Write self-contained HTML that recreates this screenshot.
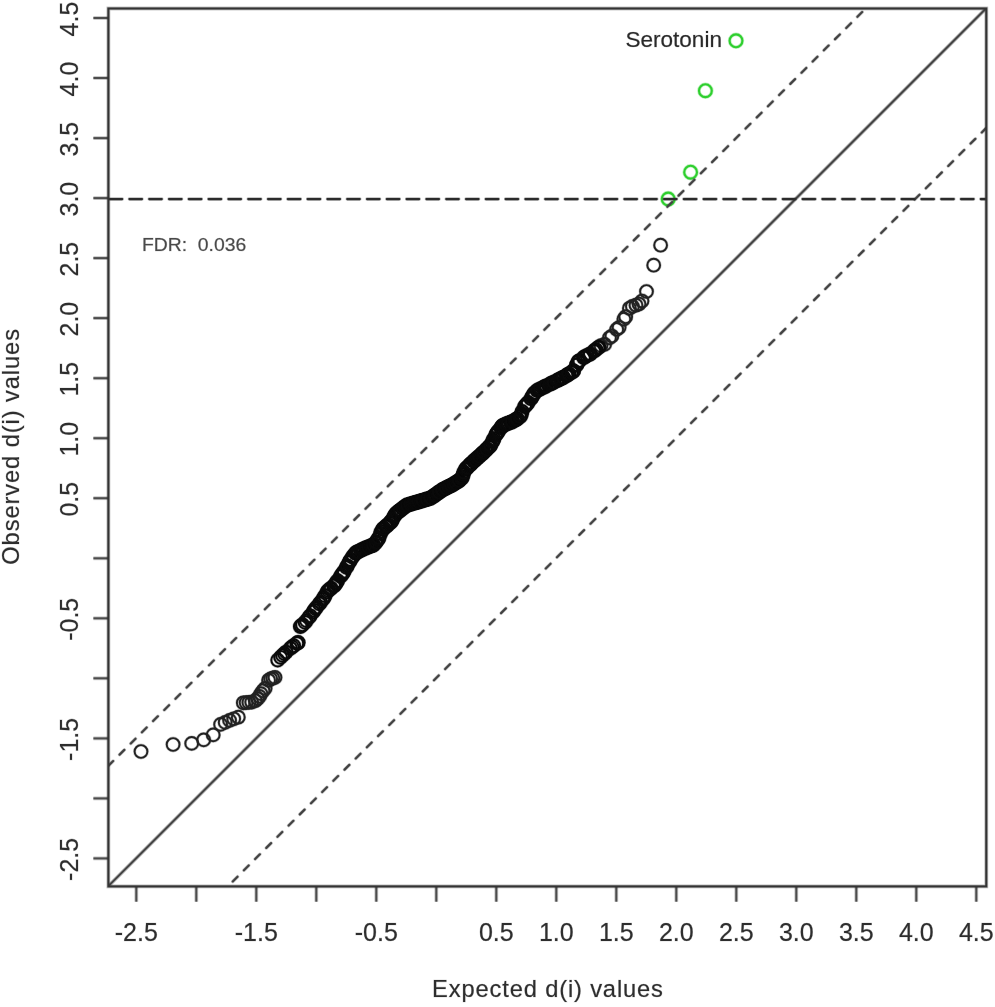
<!DOCTYPE html>
<html><head><meta charset="utf-8"><title>SAM plot</title>
<style>
html,body{margin:0;padding:0;background:#fff;}
svg{display:block;font-family:"Liberation Sans",sans-serif;}
.ln{stroke:#444;stroke-width:2.1;fill:none;stroke-linecap:butt;}
.tick{stroke:#4c4c4c;stroke-width:2.0;fill:none;stroke-linecap:butt;}
.box{stroke:#333;stroke-width:2.1;fill:none;}
.dash{stroke:#424242;stroke-width:2.2;fill:none;stroke-linecap:round;stroke-dasharray:6.7 9.11;}
.hdash{stroke:#2b2b2b;stroke-width:2.1;fill:none;stroke-linecap:round;stroke-dasharray:12.6 7.2;}
.pt{stroke:#222;stroke-width:1.9;fill:none;}
.pm{stroke:#0a0a0a;}
.gp{stroke:#2ecf2e;stroke-width:2.1;fill:none;}
.h{stroke-opacity:.33;}
.ln.h,.box.h,.tick.h{stroke-width:3.8;}
.dash.h{stroke-width:3.5;stroke-opacity:.3;}
.hdash.h{stroke-width:3.5;}
.pt.h{stroke-width:3.0;stroke-opacity:.28;}
.gp.h{stroke-width:3.6;}
text{stroke-opacity:.3;stroke-width:.7;}
.tk{font-size:25px;fill:#2e2e2e;stroke:#2e2e2e;text-anchor:middle;}
.ttl{font-size:23.7px;fill:#2e2e2e;stroke:#2e2e2e;text-anchor:middle;}
</style></head><body>
<svg width="995" height="1007" viewBox="0 0 995 1007">
<rect width="995" height="1007" fill="#fff"/>
<defs><clipPath id="cp"><rect x="108.4" y="8.5" width="877.9" height="877.9"/></clipPath></defs>

<line x1="136.3" y1="886.4" x2="136.3" y2="901.7" class="tick h"/>
<line x1="136.3" y1="886.4" x2="136.3" y2="901.7" class="tick"/>
<line x1="108.4" y1="858.4" x2="93.4" y2="858.4" class="tick h"/>
<line x1="108.4" y1="858.4" x2="93.4" y2="858.4" class="tick"/>
<line x1="196.3" y1="886.4" x2="196.3" y2="901.7" class="tick h"/>
<line x1="196.3" y1="886.4" x2="196.3" y2="901.7" class="tick"/>
<line x1="108.4" y1="798.4" x2="93.4" y2="798.4" class="tick h"/>
<line x1="108.4" y1="798.4" x2="93.4" y2="798.4" class="tick"/>
<line x1="256.3" y1="886.4" x2="256.3" y2="901.7" class="tick h"/>
<line x1="256.3" y1="886.4" x2="256.3" y2="901.7" class="tick"/>
<line x1="108.4" y1="738.4" x2="93.4" y2="738.4" class="tick h"/>
<line x1="108.4" y1="738.4" x2="93.4" y2="738.4" class="tick"/>
<line x1="316.3" y1="886.4" x2="316.3" y2="901.7" class="tick h"/>
<line x1="316.3" y1="886.4" x2="316.3" y2="901.7" class="tick"/>
<line x1="108.4" y1="678.3" x2="93.4" y2="678.3" class="tick h"/>
<line x1="108.4" y1="678.3" x2="93.4" y2="678.3" class="tick"/>
<line x1="376.3" y1="886.4" x2="376.3" y2="901.7" class="tick h"/>
<line x1="376.3" y1="886.4" x2="376.3" y2="901.7" class="tick"/>
<line x1="108.4" y1="618.3" x2="93.4" y2="618.3" class="tick h"/>
<line x1="108.4" y1="618.3" x2="93.4" y2="618.3" class="tick"/>
<line x1="436.3" y1="886.4" x2="436.3" y2="901.7" class="tick h"/>
<line x1="436.3" y1="886.4" x2="436.3" y2="901.7" class="tick"/>
<line x1="108.4" y1="558.3" x2="93.4" y2="558.3" class="tick h"/>
<line x1="108.4" y1="558.3" x2="93.4" y2="558.3" class="tick"/>
<line x1="496.3" y1="886.4" x2="496.3" y2="901.7" class="tick h"/>
<line x1="496.3" y1="886.4" x2="496.3" y2="901.7" class="tick"/>
<line x1="108.4" y1="498.2" x2="93.4" y2="498.2" class="tick h"/>
<line x1="108.4" y1="498.2" x2="93.4" y2="498.2" class="tick"/>
<line x1="556.3" y1="886.4" x2="556.3" y2="901.7" class="tick h"/>
<line x1="556.3" y1="886.4" x2="556.3" y2="901.7" class="tick"/>
<line x1="108.4" y1="438.2" x2="93.4" y2="438.2" class="tick h"/>
<line x1="108.4" y1="438.2" x2="93.4" y2="438.2" class="tick"/>
<line x1="616.3" y1="886.4" x2="616.3" y2="901.7" class="tick h"/>
<line x1="616.3" y1="886.4" x2="616.3" y2="901.7" class="tick"/>
<line x1="108.4" y1="378.2" x2="93.4" y2="378.2" class="tick h"/>
<line x1="108.4" y1="378.2" x2="93.4" y2="378.2" class="tick"/>
<line x1="676.3" y1="886.4" x2="676.3" y2="901.7" class="tick h"/>
<line x1="676.3" y1="886.4" x2="676.3" y2="901.7" class="tick"/>
<line x1="108.4" y1="318.1" x2="93.4" y2="318.1" class="tick h"/>
<line x1="108.4" y1="318.1" x2="93.4" y2="318.1" class="tick"/>
<line x1="736.3" y1="886.4" x2="736.3" y2="901.7" class="tick h"/>
<line x1="736.3" y1="886.4" x2="736.3" y2="901.7" class="tick"/>
<line x1="108.4" y1="258.1" x2="93.4" y2="258.1" class="tick h"/>
<line x1="108.4" y1="258.1" x2="93.4" y2="258.1" class="tick"/>
<line x1="796.3" y1="886.4" x2="796.3" y2="901.7" class="tick h"/>
<line x1="796.3" y1="886.4" x2="796.3" y2="901.7" class="tick"/>
<line x1="108.4" y1="198.1" x2="93.4" y2="198.1" class="tick h"/>
<line x1="108.4" y1="198.1" x2="93.4" y2="198.1" class="tick"/>
<line x1="856.3" y1="886.4" x2="856.3" y2="901.7" class="tick h"/>
<line x1="856.3" y1="886.4" x2="856.3" y2="901.7" class="tick"/>
<line x1="108.4" y1="138.1" x2="93.4" y2="138.1" class="tick h"/>
<line x1="108.4" y1="138.1" x2="93.4" y2="138.1" class="tick"/>
<line x1="916.3" y1="886.4" x2="916.3" y2="901.7" class="tick h"/>
<line x1="916.3" y1="886.4" x2="916.3" y2="901.7" class="tick"/>
<line x1="108.4" y1="78.0" x2="93.4" y2="78.0" class="tick h"/>
<line x1="108.4" y1="78.0" x2="93.4" y2="78.0" class="tick"/>
<line x1="976.3" y1="886.4" x2="976.3" y2="901.7" class="tick h"/>
<line x1="976.3" y1="886.4" x2="976.3" y2="901.7" class="tick"/>
<line x1="108.4" y1="18.0" x2="93.4" y2="18.0" class="tick h"/>
<line x1="108.4" y1="18.0" x2="93.4" y2="18.0" class="tick"/>
<text class="tk" x="136.3" y="940.5">-2.5</text>
<text class="tk" transform="translate(77.5,859.4) rotate(-90)">-2.5</text>
<text class="tk" x="256.3" y="940.5">-1.5</text>
<text class="tk" transform="translate(77.5,739.4) rotate(-90)">-1.5</text>
<text class="tk" x="376.3" y="940.5">-0.5</text>
<text class="tk" transform="translate(77.5,619.3) rotate(-90)">-0.5</text>
<text class="tk" x="496.3" y="940.5">0.5</text>
<text class="tk" transform="translate(77.5,499.2) rotate(-90)">0.5</text>
<text class="tk" x="556.3" y="940.5">1.0</text>
<text class="tk" transform="translate(77.5,439.2) rotate(-90)">1.0</text>
<text class="tk" x="616.3" y="940.5">1.5</text>
<text class="tk" transform="translate(77.5,379.2) rotate(-90)">1.5</text>
<text class="tk" x="676.3" y="940.5">2.0</text>
<text class="tk" transform="translate(77.5,319.1) rotate(-90)">2.0</text>
<text class="tk" x="736.3" y="940.5">2.5</text>
<text class="tk" transform="translate(77.5,259.1) rotate(-90)">2.5</text>
<text class="tk" x="796.3" y="940.5">3.0</text>
<text class="tk" transform="translate(77.5,199.1) rotate(-90)">3.0</text>
<text class="tk" x="856.3" y="940.5">3.5</text>
<text class="tk" transform="translate(77.5,139.1) rotate(-90)">3.5</text>
<text class="tk" x="916.3" y="940.5">4.0</text>
<text class="tk" transform="translate(77.5,79.0) rotate(-90)">4.0</text>
<text class="tk" x="976.3" y="940.5">4.5</text>
<text class="tk" transform="translate(77.5,19.0) rotate(-90)">4.5</text>
<text class="ttl" x="547.5" y="996.6" textLength="230.8" lengthAdjust="spacing">Expected d(i) values</text>
<text class="ttl" transform="translate(19.2,446.9) rotate(-90)" textLength="235.8" lengthAdjust="spacing">Observed d(i) values</text>
<circle cx="141" cy="751.5" r="6.4" class="pt h"/>
<circle cx="141" cy="751.5" r="6.4" class="pt"/>
<circle cx="173.1" cy="744.5" r="6.4" class="pt h"/>
<circle cx="173.1" cy="744.5" r="6.4" class="pt"/>
<circle cx="191.7" cy="743.4" r="6.4" class="pt h"/>
<circle cx="191.7" cy="743.4" r="6.4" class="pt"/>
<circle cx="203.7" cy="739.9" r="6.4" class="pt h"/>
<circle cx="203.7" cy="739.9" r="6.4" class="pt"/>
<circle cx="213.2" cy="734.9" r="6.4" class="pt h"/>
<circle cx="213.2" cy="734.9" r="6.4" class="pt"/>
<circle cx="220.6" cy="724.4" r="6.4" class="pt h"/>
<circle cx="220.6" cy="724.4" r="6.4" class="pt"/>
<circle cx="225.2" cy="722.4" r="6.4" class="pt h"/>
<circle cx="225.2" cy="722.4" r="6.4" class="pt"/>
<circle cx="229.6" cy="720.4" r="6.4" class="pt h"/>
<circle cx="229.6" cy="720.4" r="6.4" class="pt"/>
<circle cx="233.7" cy="718.8" r="6.4" class="pt h"/>
<circle cx="233.7" cy="718.8" r="6.4" class="pt"/>
<circle cx="238.3" cy="717.2" r="6.4" class="pt h"/>
<circle cx="238.3" cy="717.2" r="6.4" class="pt"/>
<circle cx="243.3" cy="702.8" r="6.4" class="pt h"/>
<circle cx="243.3" cy="702.8" r="6.4" class="pt"/>
<circle cx="246.1" cy="702.6" r="6.4" class="pt h"/>
<circle cx="246.1" cy="702.6" r="6.4" class="pt"/>
<circle cx="248.9" cy="702.4" r="6.4" class="pt h"/>
<circle cx="248.9" cy="702.4" r="6.4" class="pt"/>
<circle cx="251.7" cy="702.1" r="6.4" class="pt h"/>
<circle cx="251.7" cy="702.1" r="6.4" class="pt"/>
<circle cx="255.3" cy="700.7" r="6.4" class="pt h"/>
<circle cx="255.3" cy="700.7" r="6.4" class="pt"/>
<circle cx="257.7" cy="698.6" r="6.4" class="pt h"/>
<circle cx="257.7" cy="698.6" r="6.4" class="pt"/>
<circle cx="259.5" cy="696.4" r="6.4" class="pt h"/>
<circle cx="259.5" cy="696.4" r="6.4" class="pt"/>
<circle cx="260.9" cy="693.6" r="6.4" class="pt h"/>
<circle cx="260.9" cy="693.6" r="6.4" class="pt"/>
<circle cx="263" cy="690.8" r="6.4" class="pt h"/>
<circle cx="263" cy="690.8" r="6.4" class="pt"/>
<circle cx="265.1" cy="688.4" r="6.4" class="pt h"/>
<circle cx="265.1" cy="688.4" r="6.4" class="pt"/>
<circle cx="268.6" cy="680.3" r="6.4" class="pt h"/>
<circle cx="268.6" cy="680.3" r="6.4" class="pt"/>
<circle cx="270.7" cy="678.9" r="6.4" class="pt h"/>
<circle cx="270.7" cy="678.9" r="6.4" class="pt"/>
<circle cx="272.9" cy="678.1" r="6.4" class="pt h"/>
<circle cx="272.9" cy="678.1" r="6.4" class="pt"/>
<circle cx="275" cy="677.4" r="6.4" class="pt h"/>
<circle cx="275" cy="677.4" r="6.4" class="pt"/>
<circle cx="660.6" cy="245.2" r="6.4" class="pt h"/>
<circle cx="660.6" cy="245.2" r="6.4" class="pt"/>
<circle cx="653.7" cy="265.2" r="6.4" class="pt h"/>
<circle cx="653.7" cy="265.2" r="6.4" class="pt"/>
<circle cx="646.5" cy="291.5" r="6.4" class="pt h"/>
<circle cx="646.5" cy="291.5" r="6.4" class="pt"/>
<circle cx="642" cy="301" r="6.4" class="pt h"/>
<circle cx="642" cy="301" r="6.4" class="pt"/>
<circle cx="639" cy="304" r="6.4" class="pt h"/>
<circle cx="639" cy="304" r="6.4" class="pt"/>
<circle cx="636" cy="305.2" r="6.4" class="pt h"/>
<circle cx="636" cy="305.2" r="6.4" class="pt"/>
<circle cx="632.4" cy="306.4" r="6.4" class="pt h"/>
<circle cx="632.4" cy="306.4" r="6.4" class="pt"/>
<circle cx="629.4" cy="308.3" r="6.4" class="pt h"/>
<circle cx="629.4" cy="308.3" r="6.4" class="pt"/>
<circle cx="625.7" cy="316.7" r="6.4" class="pt h"/>
<circle cx="625.7" cy="316.7" r="6.4" class="pt"/>
<circle cx="623.9" cy="319.1" r="6.4" class="pt h"/>
<circle cx="623.9" cy="319.1" r="6.4" class="pt"/>
<circle cx="619.1" cy="327.5" r="6.4" class="pt h"/>
<circle cx="619.1" cy="327.5" r="6.4" class="pt"/>
<circle cx="616.7" cy="329.4" r="6.4" class="pt h"/>
<circle cx="616.7" cy="329.4" r="6.4" class="pt"/>
<circle cx="611.9" cy="336" r="6.4" class="pt h"/>
<circle cx="611.9" cy="336" r="6.4" class="pt"/>
<circle cx="609.5" cy="337.8" r="6.4" class="pt h"/>
<circle cx="609.5" cy="337.8" r="6.4" class="pt"/>
<circle cx="604.6" cy="344.4" r="6.4" class="pt h"/>
<circle cx="604.6" cy="344.4" r="6.4" class="pt"/>
<circle cx="601" cy="345.6" r="6.4" class="pt h"/>
<circle cx="601" cy="345.6" r="6.4" class="pt"/>
<circle cx="280.6" cy="657.3" r="6.4" class="pt pm h"/>
<circle cx="280.6" cy="657.3" r="6.4" class="pt pm"/>
<circle cx="282.5" cy="655.4" r="6.4" class="pt pm h"/>
<circle cx="282.5" cy="655.4" r="6.4" class="pt pm"/>
<circle cx="284.4" cy="653.6" r="6.4" class="pt pm h"/>
<circle cx="284.4" cy="653.6" r="6.4" class="pt pm"/>
<circle cx="286.1" cy="652.0" r="6.4" class="pt pm h"/>
<circle cx="286.1" cy="652.0" r="6.4" class="pt pm"/>
<circle cx="290.4" cy="648.3" r="6.4" class="pt pm h"/>
<circle cx="290.4" cy="648.3" r="6.4" class="pt pm"/>
<circle cx="292.1" cy="646.9" r="6.4" class="pt pm h"/>
<circle cx="292.1" cy="646.9" r="6.4" class="pt pm"/>
<circle cx="293.7" cy="645.7" r="6.4" class="pt pm h"/>
<circle cx="293.7" cy="645.7" r="6.4" class="pt pm"/>
<circle cx="296.8" cy="643.4" r="6.4" class="pt pm h"/>
<circle cx="296.8" cy="643.4" r="6.4" class="pt pm"/>
<circle cx="297.9" cy="642.7" r="6.4" class="pt pm h"/>
<circle cx="297.9" cy="642.7" r="6.4" class="pt pm"/>
<circle cx="301.1" cy="625.9" r="6.4" class="pt pm h"/>
<circle cx="301.1" cy="625.9" r="6.4" class="pt pm"/>
<circle cx="302.5" cy="624.7" r="6.4" class="pt pm h"/>
<circle cx="302.5" cy="624.7" r="6.4" class="pt pm"/>
<circle cx="305.1" cy="622.4" r="6.4" class="pt pm h"/>
<circle cx="305.1" cy="622.4" r="6.4" class="pt pm"/>
<circle cx="306.4" cy="620.6" r="6.4" class="pt pm h"/>
<circle cx="306.4" cy="620.6" r="6.4" class="pt pm"/>
<circle cx="308.9" cy="617.4" r="6.4" class="pt pm h"/>
<circle cx="308.9" cy="617.4" r="6.4" class="pt pm"/>
<circle cx="310.2" cy="615.8" r="6.4" class="pt pm h"/>
<circle cx="310.2" cy="615.8" r="6.4" class="pt pm"/>
<circle cx="313.1" cy="612.0" r="6.4" class="pt pm h"/>
<circle cx="313.1" cy="612.0" r="6.4" class="pt pm"/>
<circle cx="314.3" cy="610.3" r="6.4" class="pt pm h"/>
<circle cx="314.3" cy="610.3" r="6.4" class="pt pm"/>
<circle cx="315.5" cy="608.6" r="6.4" class="pt pm h"/>
<circle cx="315.5" cy="608.6" r="6.4" class="pt pm"/>
<circle cx="316.7" cy="607.1" r="6.4" class="pt pm h"/>
<circle cx="316.7" cy="607.1" r="6.4" class="pt pm"/>
<circle cx="319.4" cy="603.8" r="6.4" class="pt pm h"/>
<circle cx="319.4" cy="603.8" r="6.4" class="pt pm"/>
<circle cx="320.5" cy="602.4" r="6.4" class="pt pm h"/>
<circle cx="320.5" cy="602.4" r="6.4" class="pt pm"/>
<circle cx="322.8" cy="599.4" r="6.4" class="pt pm h"/>
<circle cx="322.8" cy="599.4" r="6.4" class="pt pm"/>
<circle cx="323.9" cy="597.7" r="6.4" class="pt pm h"/>
<circle cx="323.9" cy="597.7" r="6.4" class="pt pm"/>
<circle cx="325.0" cy="595.7" r="6.4" class="pt pm h"/>
<circle cx="325.0" cy="595.7" r="6.4" class="pt pm"/>
<circle cx="327.2" cy="591.8" r="6.4" class="pt pm h"/>
<circle cx="327.2" cy="591.8" r="6.4" class="pt pm"/>
<circle cx="328.3" cy="590.4" r="6.4" class="pt pm h"/>
<circle cx="328.3" cy="590.4" r="6.4" class="pt pm"/>
<circle cx="330.2" cy="588.9" r="6.4" class="pt pm h"/>
<circle cx="330.2" cy="588.9" r="6.4" class="pt pm"/>
<circle cx="331.2" cy="588.2" r="6.4" class="pt pm h"/>
<circle cx="331.2" cy="588.2" r="6.4" class="pt pm"/>
<circle cx="333.7" cy="586.0" r="6.4" class="pt pm h"/>
<circle cx="333.7" cy="586.0" r="6.4" class="pt pm"/>
<circle cx="334.7" cy="585.3" r="6.4" class="pt pm h"/>
<circle cx="334.7" cy="585.3" r="6.4" class="pt pm"/>
<circle cx="335.7" cy="583.7" r="6.4" class="pt pm h"/>
<circle cx="335.7" cy="583.7" r="6.4" class="pt pm"/>
<circle cx="336.6" cy="582.2" r="6.4" class="pt pm h"/>
<circle cx="336.6" cy="582.2" r="6.4" class="pt pm"/>
<circle cx="337.6" cy="580.7" r="6.4" class="pt pm h"/>
<circle cx="337.6" cy="580.7" r="6.4" class="pt pm"/>
<circle cx="340.5" cy="576.4" r="6.4" class="pt pm h"/>
<circle cx="340.5" cy="576.4" r="6.4" class="pt pm"/>
<circle cx="341.5" cy="575.1" r="6.4" class="pt pm h"/>
<circle cx="341.5" cy="575.1" r="6.4" class="pt pm"/>
<circle cx="342.4" cy="573.9" r="6.4" class="pt pm h"/>
<circle cx="342.4" cy="573.9" r="6.4" class="pt pm"/>
<circle cx="343.3" cy="572.6" r="6.4" class="pt pm h"/>
<circle cx="343.3" cy="572.6" r="6.4" class="pt pm"/>
<circle cx="344.2" cy="571.2" r="6.4" class="pt pm h"/>
<circle cx="344.2" cy="571.2" r="6.4" class="pt pm"/>
<circle cx="346.4" cy="567.4" r="6.4" class="pt pm h"/>
<circle cx="346.4" cy="567.4" r="6.4" class="pt pm"/>
<circle cx="347.3" cy="565.8" r="6.4" class="pt pm h"/>
<circle cx="347.3" cy="565.8" r="6.4" class="pt pm"/>
<circle cx="349.1" cy="562.5" r="6.4" class="pt pm h"/>
<circle cx="349.1" cy="562.5" r="6.4" class="pt pm"/>
<circle cx="349.9" cy="561.0" r="6.4" class="pt pm h"/>
<circle cx="349.9" cy="561.0" r="6.4" class="pt pm"/>
<circle cx="350.8" cy="559.6" r="6.4" class="pt pm h"/>
<circle cx="350.8" cy="559.6" r="6.4" class="pt pm"/>
<circle cx="352.5" cy="557.0" r="6.4" class="pt pm h"/>
<circle cx="352.5" cy="557.0" r="6.4" class="pt pm"/>
<circle cx="353.4" cy="555.7" r="6.4" class="pt pm h"/>
<circle cx="353.4" cy="555.7" r="6.4" class="pt pm"/>
<circle cx="355.4" cy="553.2" r="6.4" class="pt pm h"/>
<circle cx="355.4" cy="553.2" r="6.4" class="pt pm"/>
<circle cx="356.2" cy="552.6" r="6.4" class="pt pm h"/>
<circle cx="356.2" cy="552.6" r="6.4" class="pt pm"/>
<circle cx="357.0" cy="552.2" r="6.4" class="pt pm h"/>
<circle cx="357.0" cy="552.2" r="6.4" class="pt pm"/>
<circle cx="357.8" cy="551.8" r="6.4" class="pt pm h"/>
<circle cx="357.8" cy="551.8" r="6.4" class="pt pm"/>
<circle cx="358.6" cy="551.4" r="6.4" class="pt pm h"/>
<circle cx="358.6" cy="551.4" r="6.4" class="pt pm"/>
<circle cx="360.6" cy="550.4" r="6.4" class="pt pm h"/>
<circle cx="360.6" cy="550.4" r="6.4" class="pt pm"/>
<circle cx="361.4" cy="550.0" r="6.4" class="pt pm h"/>
<circle cx="361.4" cy="550.0" r="6.4" class="pt pm"/>
<circle cx="362.8" cy="549.3" r="6.4" class="pt pm h"/>
<circle cx="362.8" cy="549.3" r="6.4" class="pt pm"/>
<circle cx="363.6" cy="548.9" r="6.4" class="pt pm h"/>
<circle cx="363.6" cy="548.9" r="6.4" class="pt pm"/>
<circle cx="365.2" cy="548.1" r="6.4" class="pt pm h"/>
<circle cx="365.2" cy="548.1" r="6.4" class="pt pm"/>
<circle cx="366.0" cy="547.9" r="6.4" class="pt pm h"/>
<circle cx="366.0" cy="547.9" r="6.4" class="pt pm"/>
<circle cx="366.7" cy="547.6" r="6.4" class="pt pm h"/>
<circle cx="366.7" cy="547.6" r="6.4" class="pt pm"/>
<circle cx="368.3" cy="547.0" r="6.4" class="pt pm h"/>
<circle cx="368.3" cy="547.0" r="6.4" class="pt pm"/>
<circle cx="369.0" cy="546.7" r="6.4" class="pt pm h"/>
<circle cx="369.0" cy="546.7" r="6.4" class="pt pm"/>
<circle cx="370.8" cy="546.0" r="6.4" class="pt pm h"/>
<circle cx="370.8" cy="546.0" r="6.4" class="pt pm"/>
<circle cx="371.6" cy="545.7" r="6.4" class="pt pm h"/>
<circle cx="371.6" cy="545.7" r="6.4" class="pt pm"/>
<circle cx="372.3" cy="545.4" r="6.4" class="pt pm h"/>
<circle cx="372.3" cy="545.4" r="6.4" class="pt pm"/>
<circle cx="373.0" cy="545.1" r="6.4" class="pt pm h"/>
<circle cx="373.0" cy="545.1" r="6.4" class="pt pm"/>
<circle cx="373.7" cy="544.9" r="6.4" class="pt pm h"/>
<circle cx="373.7" cy="544.9" r="6.4" class="pt pm"/>
<circle cx="375.5" cy="542.9" r="6.4" class="pt pm h"/>
<circle cx="375.5" cy="542.9" r="6.4" class="pt pm"/>
<circle cx="376.2" cy="541.9" r="6.4" class="pt pm h"/>
<circle cx="376.2" cy="541.9" r="6.4" class="pt pm"/>
<circle cx="377.7" cy="539.7" r="6.4" class="pt pm h"/>
<circle cx="377.7" cy="539.7" r="6.4" class="pt pm"/>
<circle cx="378.4" cy="538.7" r="6.4" class="pt pm h"/>
<circle cx="378.4" cy="538.7" r="6.4" class="pt pm"/>
<circle cx="379.1" cy="537.5" r="6.4" class="pt pm h"/>
<circle cx="379.1" cy="537.5" r="6.4" class="pt pm"/>
<circle cx="380.6" cy="533.6" r="6.4" class="pt pm h"/>
<circle cx="380.6" cy="533.6" r="6.4" class="pt pm"/>
<circle cx="381.2" cy="531.6" r="6.4" class="pt pm h"/>
<circle cx="381.2" cy="531.6" r="6.4" class="pt pm"/>
<circle cx="382.7" cy="529.3" r="6.4" class="pt pm h"/>
<circle cx="382.7" cy="529.3" r="6.4" class="pt pm"/>
<circle cx="383.3" cy="528.7" r="6.4" class="pt pm h"/>
<circle cx="383.3" cy="528.7" r="6.4" class="pt pm"/>
<circle cx="384.0" cy="528.1" r="6.4" class="pt pm h"/>
<circle cx="384.0" cy="528.1" r="6.4" class="pt pm"/>
<circle cx="385.7" cy="526.6" r="6.4" class="pt pm h"/>
<circle cx="385.7" cy="526.6" r="6.4" class="pt pm"/>
<circle cx="386.4" cy="526.0" r="6.4" class="pt pm h"/>
<circle cx="386.4" cy="526.0" r="6.4" class="pt pm"/>
<circle cx="387.1" cy="525.5" r="6.4" class="pt pm h"/>
<circle cx="387.1" cy="525.5" r="6.4" class="pt pm"/>
<circle cx="387.7" cy="524.9" r="6.4" class="pt pm h"/>
<circle cx="387.7" cy="524.9" r="6.4" class="pt pm"/>
<circle cx="389.7" cy="523.0" r="6.4" class="pt pm h"/>
<circle cx="389.7" cy="523.0" r="6.4" class="pt pm"/>
<circle cx="390.3" cy="522.4" r="6.4" class="pt pm h"/>
<circle cx="390.3" cy="522.4" r="6.4" class="pt pm"/>
<circle cx="391.0" cy="521.8" r="6.4" class="pt pm h"/>
<circle cx="391.0" cy="521.8" r="6.4" class="pt pm"/>
<circle cx="391.7" cy="520.8" r="6.4" class="pt pm h"/>
<circle cx="391.7" cy="520.8" r="6.4" class="pt pm"/>
<circle cx="392.3" cy="519.7" r="6.4" class="pt pm h"/>
<circle cx="392.3" cy="519.7" r="6.4" class="pt pm"/>
<circle cx="394.1" cy="516.6" r="6.4" class="pt pm h"/>
<circle cx="394.1" cy="516.6" r="6.4" class="pt pm"/>
<circle cx="394.7" cy="515.5" r="6.4" class="pt pm h"/>
<circle cx="394.7" cy="515.5" r="6.4" class="pt pm"/>
<circle cx="395.4" cy="514.3" r="6.4" class="pt pm h"/>
<circle cx="395.4" cy="514.3" r="6.4" class="pt pm"/>
<circle cx="396.7" cy="512.9" r="6.4" class="pt pm h"/>
<circle cx="396.7" cy="512.9" r="6.4" class="pt pm"/>
<circle cx="397.4" cy="512.4" r="6.4" class="pt pm h"/>
<circle cx="397.4" cy="512.4" r="6.4" class="pt pm"/>
<circle cx="398.8" cy="511.3" r="6.4" class="pt pm h"/>
<circle cx="398.8" cy="511.3" r="6.4" class="pt pm"/>
<circle cx="399.5" cy="510.8" r="6.4" class="pt pm h"/>
<circle cx="399.5" cy="510.8" r="6.4" class="pt pm"/>
<circle cx="400.1" cy="510.3" r="6.4" class="pt pm h"/>
<circle cx="400.1" cy="510.3" r="6.4" class="pt pm"/>
<circle cx="400.7" cy="509.8" r="6.4" class="pt pm h"/>
<circle cx="400.7" cy="509.8" r="6.4" class="pt pm"/>
<circle cx="402.3" cy="508.6" r="6.4" class="pt pm h"/>
<circle cx="402.3" cy="508.6" r="6.4" class="pt pm"/>
<circle cx="402.9" cy="508.1" r="6.4" class="pt pm h"/>
<circle cx="402.9" cy="508.1" r="6.4" class="pt pm"/>
<circle cx="403.6" cy="507.6" r="6.4" class="pt pm h"/>
<circle cx="403.6" cy="507.6" r="6.4" class="pt pm"/>
<circle cx="404.9" cy="506.6" r="6.4" class="pt pm h"/>
<circle cx="404.9" cy="506.6" r="6.4" class="pt pm"/>
<circle cx="405.5" cy="506.1" r="6.4" class="pt pm h"/>
<circle cx="405.5" cy="506.1" r="6.4" class="pt pm"/>
<circle cx="406.8" cy="505.2" r="6.4" class="pt pm h"/>
<circle cx="406.8" cy="505.2" r="6.4" class="pt pm"/>
<circle cx="407.4" cy="505.0" r="6.4" class="pt pm h"/>
<circle cx="407.4" cy="505.0" r="6.4" class="pt pm"/>
<circle cx="408.0" cy="504.9" r="6.4" class="pt pm h"/>
<circle cx="408.0" cy="504.9" r="6.4" class="pt pm"/>
<circle cx="409.6" cy="504.4" r="6.4" class="pt pm h"/>
<circle cx="409.6" cy="504.4" r="6.4" class="pt pm"/>
<circle cx="410.2" cy="504.2" r="6.4" class="pt pm h"/>
<circle cx="410.2" cy="504.2" r="6.4" class="pt pm"/>
<circle cx="410.8" cy="504.0" r="6.4" class="pt pm h"/>
<circle cx="410.8" cy="504.0" r="6.4" class="pt pm"/>
<circle cx="411.4" cy="503.8" r="6.4" class="pt pm h"/>
<circle cx="411.4" cy="503.8" r="6.4" class="pt pm"/>
<circle cx="412.8" cy="503.4" r="6.4" class="pt pm h"/>
<circle cx="412.8" cy="503.4" r="6.4" class="pt pm"/>
<circle cx="413.4" cy="503.2" r="6.4" class="pt pm h"/>
<circle cx="413.4" cy="503.2" r="6.4" class="pt pm"/>
<circle cx="414.5" cy="502.9" r="6.4" class="pt pm h"/>
<circle cx="414.5" cy="502.9" r="6.4" class="pt pm"/>
<circle cx="415.2" cy="502.7" r="6.4" class="pt pm h"/>
<circle cx="415.2" cy="502.7" r="6.4" class="pt pm"/>
<circle cx="416.3" cy="502.4" r="6.4" class="pt pm h"/>
<circle cx="416.3" cy="502.4" r="6.4" class="pt pm"/>
<circle cx="416.9" cy="502.2" r="6.4" class="pt pm h"/>
<circle cx="416.9" cy="502.2" r="6.4" class="pt pm"/>
<circle cx="418.2" cy="501.8" r="6.4" class="pt pm h"/>
<circle cx="418.2" cy="501.8" r="6.4" class="pt pm"/>
<circle cx="418.8" cy="501.7" r="6.4" class="pt pm h"/>
<circle cx="418.8" cy="501.7" r="6.4" class="pt pm"/>
<circle cx="419.4" cy="501.5" r="6.4" class="pt pm h"/>
<circle cx="419.4" cy="501.5" r="6.4" class="pt pm"/>
<circle cx="421.0" cy="501.0" r="6.4" class="pt pm h"/>
<circle cx="421.0" cy="501.0" r="6.4" class="pt pm"/>
<circle cx="421.6" cy="500.8" r="6.4" class="pt pm h"/>
<circle cx="421.6" cy="500.8" r="6.4" class="pt pm"/>
<circle cx="422.2" cy="500.6" r="6.4" class="pt pm h"/>
<circle cx="422.2" cy="500.6" r="6.4" class="pt pm"/>
<circle cx="422.8" cy="500.4" r="6.4" class="pt pm h"/>
<circle cx="422.8" cy="500.4" r="6.4" class="pt pm"/>
<circle cx="423.4" cy="500.3" r="6.4" class="pt pm h"/>
<circle cx="423.4" cy="500.3" r="6.4" class="pt pm"/>
<circle cx="425.3" cy="499.7" r="6.4" class="pt pm h"/>
<circle cx="425.3" cy="499.7" r="6.4" class="pt pm"/>
<circle cx="425.9" cy="499.5" r="6.4" class="pt pm h"/>
<circle cx="425.9" cy="499.5" r="6.4" class="pt pm"/>
<circle cx="426.5" cy="499.4" r="6.4" class="pt pm h"/>
<circle cx="426.5" cy="499.4" r="6.4" class="pt pm"/>
<circle cx="427.1" cy="499.2" r="6.4" class="pt pm h"/>
<circle cx="427.1" cy="499.2" r="6.4" class="pt pm"/>
<circle cx="427.7" cy="499.0" r="6.4" class="pt pm h"/>
<circle cx="427.7" cy="499.0" r="6.4" class="pt pm"/>
<circle cx="429.4" cy="498.4" r="6.4" class="pt pm h"/>
<circle cx="429.4" cy="498.4" r="6.4" class="pt pm"/>
<circle cx="430.0" cy="498.3" r="6.4" class="pt pm h"/>
<circle cx="430.0" cy="498.3" r="6.4" class="pt pm"/>
<circle cx="430.6" cy="498.1" r="6.4" class="pt pm h"/>
<circle cx="430.6" cy="498.1" r="6.4" class="pt pm"/>
<circle cx="431.2" cy="497.6" r="6.4" class="pt pm h"/>
<circle cx="431.2" cy="497.6" r="6.4" class="pt pm"/>
<circle cx="433.0" cy="496.5" r="6.4" class="pt pm h"/>
<circle cx="433.0" cy="496.5" r="6.4" class="pt pm"/>
<circle cx="433.6" cy="496.1" r="6.4" class="pt pm h"/>
<circle cx="433.6" cy="496.1" r="6.4" class="pt pm"/>
<circle cx="434.2" cy="495.6" r="6.4" class="pt pm h"/>
<circle cx="434.2" cy="495.6" r="6.4" class="pt pm"/>
<circle cx="434.8" cy="495.2" r="6.4" class="pt pm h"/>
<circle cx="434.8" cy="495.2" r="6.4" class="pt pm"/>
<circle cx="435.4" cy="494.8" r="6.4" class="pt pm h"/>
<circle cx="435.4" cy="494.8" r="6.4" class="pt pm"/>
<circle cx="437.2" cy="493.5" r="6.4" class="pt pm h"/>
<circle cx="437.2" cy="493.5" r="6.4" class="pt pm"/>
<circle cx="437.8" cy="493.0" r="6.4" class="pt pm h"/>
<circle cx="437.8" cy="493.0" r="6.4" class="pt pm"/>
<circle cx="438.4" cy="492.6" r="6.4" class="pt pm h"/>
<circle cx="438.4" cy="492.6" r="6.4" class="pt pm"/>
<circle cx="439.0" cy="492.2" r="6.4" class="pt pm h"/>
<circle cx="439.0" cy="492.2" r="6.4" class="pt pm"/>
<circle cx="439.6" cy="491.8" r="6.4" class="pt pm h"/>
<circle cx="439.6" cy="491.8" r="6.4" class="pt pm"/>
<circle cx="441.4" cy="490.6" r="6.4" class="pt pm h"/>
<circle cx="441.4" cy="490.6" r="6.4" class="pt pm"/>
<circle cx="442.0" cy="490.1" r="6.4" class="pt pm h"/>
<circle cx="442.0" cy="490.1" r="6.4" class="pt pm"/>
<circle cx="442.6" cy="489.7" r="6.4" class="pt pm h"/>
<circle cx="442.6" cy="489.7" r="6.4" class="pt pm"/>
<circle cx="443.2" cy="489.4" r="6.4" class="pt pm h"/>
<circle cx="443.2" cy="489.4" r="6.4" class="pt pm"/>
<circle cx="444.8" cy="488.6" r="6.4" class="pt pm h"/>
<circle cx="444.8" cy="488.6" r="6.4" class="pt pm"/>
<circle cx="445.4" cy="488.3" r="6.4" class="pt pm h"/>
<circle cx="445.4" cy="488.3" r="6.4" class="pt pm"/>
<circle cx="446.0" cy="488.0" r="6.4" class="pt pm h"/>
<circle cx="446.0" cy="488.0" r="6.4" class="pt pm"/>
<circle cx="446.6" cy="487.7" r="6.4" class="pt pm h"/>
<circle cx="446.6" cy="487.7" r="6.4" class="pt pm"/>
<circle cx="448.1" cy="486.9" r="6.4" class="pt pm h"/>
<circle cx="448.1" cy="486.9" r="6.4" class="pt pm"/>
<circle cx="448.7" cy="486.6" r="6.4" class="pt pm h"/>
<circle cx="448.7" cy="486.6" r="6.4" class="pt pm"/>
<circle cx="449.3" cy="486.3" r="6.4" class="pt pm h"/>
<circle cx="449.3" cy="486.3" r="6.4" class="pt pm"/>
<circle cx="450.7" cy="485.7" r="6.4" class="pt pm h"/>
<circle cx="450.7" cy="485.7" r="6.4" class="pt pm"/>
<circle cx="451.3" cy="485.4" r="6.4" class="pt pm h"/>
<circle cx="451.3" cy="485.4" r="6.4" class="pt pm"/>
<circle cx="451.9" cy="485.1" r="6.4" class="pt pm h"/>
<circle cx="451.9" cy="485.1" r="6.4" class="pt pm"/>
<circle cx="453.2" cy="484.3" r="6.4" class="pt pm h"/>
<circle cx="453.2" cy="484.3" r="6.4" class="pt pm"/>
<circle cx="453.8" cy="483.9" r="6.4" class="pt pm h"/>
<circle cx="453.8" cy="483.9" r="6.4" class="pt pm"/>
<circle cx="454.4" cy="483.5" r="6.4" class="pt pm h"/>
<circle cx="454.4" cy="483.5" r="6.4" class="pt pm"/>
<circle cx="455.7" cy="482.7" r="6.4" class="pt pm h"/>
<circle cx="455.7" cy="482.7" r="6.4" class="pt pm"/>
<circle cx="456.3" cy="482.4" r="6.4" class="pt pm h"/>
<circle cx="456.3" cy="482.4" r="6.4" class="pt pm"/>
<circle cx="457.7" cy="481.5" r="6.4" class="pt pm h"/>
<circle cx="457.7" cy="481.5" r="6.4" class="pt pm"/>
<circle cx="458.3" cy="481.1" r="6.4" class="pt pm h"/>
<circle cx="458.3" cy="481.1" r="6.4" class="pt pm"/>
<circle cx="458.9" cy="480.7" r="6.4" class="pt pm h"/>
<circle cx="458.9" cy="480.7" r="6.4" class="pt pm"/>
<circle cx="459.5" cy="480.3" r="6.4" class="pt pm h"/>
<circle cx="459.5" cy="480.3" r="6.4" class="pt pm"/>
<circle cx="461.3" cy="478.5" r="6.4" class="pt pm h"/>
<circle cx="461.3" cy="478.5" r="6.4" class="pt pm"/>
<circle cx="461.9" cy="478.1" r="6.4" class="pt pm h"/>
<circle cx="461.9" cy="478.1" r="6.4" class="pt pm"/>
<circle cx="462.6" cy="476.6" r="6.4" class="pt pm h"/>
<circle cx="462.6" cy="476.6" r="6.4" class="pt pm"/>
<circle cx="463.2" cy="474.4" r="6.4" class="pt pm h"/>
<circle cx="463.2" cy="474.4" r="6.4" class="pt pm"/>
<circle cx="463.8" cy="472.2" r="6.4" class="pt pm h"/>
<circle cx="463.8" cy="472.2" r="6.4" class="pt pm"/>
<circle cx="465.6" cy="469.1" r="6.4" class="pt pm h"/>
<circle cx="465.6" cy="469.1" r="6.4" class="pt pm"/>
<circle cx="466.2" cy="468.5" r="6.4" class="pt pm h"/>
<circle cx="466.2" cy="468.5" r="6.4" class="pt pm"/>
<circle cx="466.9" cy="467.9" r="6.4" class="pt pm h"/>
<circle cx="466.9" cy="467.9" r="6.4" class="pt pm"/>
<circle cx="467.5" cy="467.3" r="6.4" class="pt pm h"/>
<circle cx="467.5" cy="467.3" r="6.4" class="pt pm"/>
<circle cx="469.3" cy="465.4" r="6.4" class="pt pm h"/>
<circle cx="469.3" cy="465.4" r="6.4" class="pt pm"/>
<circle cx="469.9" cy="464.8" r="6.4" class="pt pm h"/>
<circle cx="469.9" cy="464.8" r="6.4" class="pt pm"/>
<circle cx="470.6" cy="464.2" r="6.4" class="pt pm h"/>
<circle cx="470.6" cy="464.2" r="6.4" class="pt pm"/>
<circle cx="471.2" cy="463.6" r="6.4" class="pt pm h"/>
<circle cx="471.2" cy="463.6" r="6.4" class="pt pm"/>
<circle cx="471.8" cy="463.0" r="6.4" class="pt pm h"/>
<circle cx="471.8" cy="463.0" r="6.4" class="pt pm"/>
<circle cx="473.7" cy="461.2" r="6.4" class="pt pm h"/>
<circle cx="473.7" cy="461.2" r="6.4" class="pt pm"/>
<circle cx="474.3" cy="460.6" r="6.4" class="pt pm h"/>
<circle cx="474.3" cy="460.6" r="6.4" class="pt pm"/>
<circle cx="475.0" cy="460.1" r="6.4" class="pt pm h"/>
<circle cx="475.0" cy="460.1" r="6.4" class="pt pm"/>
<circle cx="475.6" cy="459.5" r="6.4" class="pt pm h"/>
<circle cx="475.6" cy="459.5" r="6.4" class="pt pm"/>
<circle cx="477.1" cy="458.2" r="6.4" class="pt pm h"/>
<circle cx="477.1" cy="458.2" r="6.4" class="pt pm"/>
<circle cx="477.7" cy="457.6" r="6.4" class="pt pm h"/>
<circle cx="477.7" cy="457.6" r="6.4" class="pt pm"/>
<circle cx="478.9" cy="456.6" r="6.4" class="pt pm h"/>
<circle cx="478.9" cy="456.6" r="6.4" class="pt pm"/>
<circle cx="479.6" cy="456.0" r="6.4" class="pt pm h"/>
<circle cx="479.6" cy="456.0" r="6.4" class="pt pm"/>
<circle cx="481.2" cy="454.5" r="6.4" class="pt pm h"/>
<circle cx="481.2" cy="454.5" r="6.4" class="pt pm"/>
<circle cx="481.9" cy="453.9" r="6.4" class="pt pm h"/>
<circle cx="481.9" cy="453.9" r="6.4" class="pt pm"/>
<circle cx="482.5" cy="453.3" r="6.4" class="pt pm h"/>
<circle cx="482.5" cy="453.3" r="6.4" class="pt pm"/>
<circle cx="483.2" cy="452.7" r="6.4" class="pt pm h"/>
<circle cx="483.2" cy="452.7" r="6.4" class="pt pm"/>
<circle cx="483.9" cy="452.0" r="6.4" class="pt pm h"/>
<circle cx="483.9" cy="452.0" r="6.4" class="pt pm"/>
<circle cx="485.7" cy="450.3" r="6.4" class="pt pm h"/>
<circle cx="485.7" cy="450.3" r="6.4" class="pt pm"/>
<circle cx="486.4" cy="449.6" r="6.4" class="pt pm h"/>
<circle cx="486.4" cy="449.6" r="6.4" class="pt pm"/>
<circle cx="487.0" cy="448.9" r="6.4" class="pt pm h"/>
<circle cx="487.0" cy="448.9" r="6.4" class="pt pm"/>
<circle cx="488.7" cy="447.2" r="6.4" class="pt pm h"/>
<circle cx="488.7" cy="447.2" r="6.4" class="pt pm"/>
<circle cx="489.4" cy="446.6" r="6.4" class="pt pm h"/>
<circle cx="489.4" cy="446.6" r="6.4" class="pt pm"/>
<circle cx="490.1" cy="445.9" r="6.4" class="pt pm h"/>
<circle cx="490.1" cy="445.9" r="6.4" class="pt pm"/>
<circle cx="490.8" cy="445.0" r="6.4" class="pt pm h"/>
<circle cx="490.8" cy="445.0" r="6.4" class="pt pm"/>
<circle cx="492.5" cy="441.7" r="6.4" class="pt pm h"/>
<circle cx="492.5" cy="441.7" r="6.4" class="pt pm"/>
<circle cx="493.2" cy="440.2" r="6.4" class="pt pm h"/>
<circle cx="493.2" cy="440.2" r="6.4" class="pt pm"/>
<circle cx="493.9" cy="438.7" r="6.4" class="pt pm h"/>
<circle cx="493.9" cy="438.7" r="6.4" class="pt pm"/>
<circle cx="495.8" cy="435.0" r="6.4" class="pt pm h"/>
<circle cx="495.8" cy="435.0" r="6.4" class="pt pm"/>
<circle cx="496.5" cy="433.8" r="6.4" class="pt pm h"/>
<circle cx="496.5" cy="433.8" r="6.4" class="pt pm"/>
<circle cx="497.2" cy="432.8" r="6.4" class="pt pm h"/>
<circle cx="497.2" cy="432.8" r="6.4" class="pt pm"/>
<circle cx="497.9" cy="431.8" r="6.4" class="pt pm h"/>
<circle cx="497.9" cy="431.8" r="6.4" class="pt pm"/>
<circle cx="498.6" cy="430.8" r="6.4" class="pt pm h"/>
<circle cx="498.6" cy="430.8" r="6.4" class="pt pm"/>
<circle cx="500.9" cy="427.8" r="6.4" class="pt pm h"/>
<circle cx="500.9" cy="427.8" r="6.4" class="pt pm"/>
<circle cx="501.7" cy="426.8" r="6.4" class="pt pm h"/>
<circle cx="501.7" cy="426.8" r="6.4" class="pt pm"/>
<circle cx="502.4" cy="425.8" r="6.4" class="pt pm h"/>
<circle cx="502.4" cy="425.8" r="6.4" class="pt pm"/>
<circle cx="503.1" cy="425.3" r="6.4" class="pt pm h"/>
<circle cx="503.1" cy="425.3" r="6.4" class="pt pm"/>
<circle cx="503.9" cy="425.1" r="6.4" class="pt pm h"/>
<circle cx="503.9" cy="425.1" r="6.4" class="pt pm"/>
<circle cx="505.7" cy="424.1" r="6.4" class="pt pm h"/>
<circle cx="505.7" cy="424.1" r="6.4" class="pt pm"/>
<circle cx="506.5" cy="423.8" r="6.4" class="pt pm h"/>
<circle cx="506.5" cy="423.8" r="6.4" class="pt pm"/>
<circle cx="507.9" cy="423.3" r="6.4" class="pt pm h"/>
<circle cx="507.9" cy="423.3" r="6.4" class="pt pm"/>
<circle cx="508.7" cy="423.0" r="6.4" class="pt pm h"/>
<circle cx="508.7" cy="423.0" r="6.4" class="pt pm"/>
<circle cx="510.4" cy="422.4" r="6.4" class="pt pm h"/>
<circle cx="510.4" cy="422.4" r="6.4" class="pt pm"/>
<circle cx="511.2" cy="422.1" r="6.4" class="pt pm h"/>
<circle cx="511.2" cy="422.1" r="6.4" class="pt pm"/>
<circle cx="512.0" cy="421.8" r="6.4" class="pt pm h"/>
<circle cx="512.0" cy="421.8" r="6.4" class="pt pm"/>
<circle cx="512.8" cy="421.3" r="6.4" class="pt pm h"/>
<circle cx="512.8" cy="421.3" r="6.4" class="pt pm"/>
<circle cx="514.9" cy="420.2" r="6.4" class="pt pm h"/>
<circle cx="514.9" cy="420.2" r="6.4" class="pt pm"/>
<circle cx="515.7" cy="419.7" r="6.4" class="pt pm h"/>
<circle cx="515.7" cy="419.7" r="6.4" class="pt pm"/>
<circle cx="516.5" cy="419.2" r="6.4" class="pt pm h"/>
<circle cx="516.5" cy="419.2" r="6.4" class="pt pm"/>
<circle cx="517.4" cy="418.8" r="6.4" class="pt pm h"/>
<circle cx="517.4" cy="418.8" r="6.4" class="pt pm"/>
<circle cx="519.6" cy="416.9" r="6.4" class="pt pm h"/>
<circle cx="519.6" cy="416.9" r="6.4" class="pt pm"/>
<circle cx="520.4" cy="416.4" r="6.4" class="pt pm h"/>
<circle cx="520.4" cy="416.4" r="6.4" class="pt pm"/>
<circle cx="521.3" cy="414.4" r="6.4" class="pt pm h"/>
<circle cx="521.3" cy="414.4" r="6.4" class="pt pm"/>
<circle cx="522.1" cy="411.4" r="6.4" class="pt pm h"/>
<circle cx="522.1" cy="411.4" r="6.4" class="pt pm"/>
<circle cx="524.6" cy="406.6" r="6.4" class="pt pm h"/>
<circle cx="524.6" cy="406.6" r="6.4" class="pt pm"/>
<circle cx="525.5" cy="405.6" r="6.4" class="pt pm h"/>
<circle cx="525.5" cy="405.6" r="6.4" class="pt pm"/>
<circle cx="526.4" cy="404.6" r="6.4" class="pt pm h"/>
<circle cx="526.4" cy="404.6" r="6.4" class="pt pm"/>
<circle cx="527.3" cy="403.5" r="6.4" class="pt pm h"/>
<circle cx="527.3" cy="403.5" r="6.4" class="pt pm"/>
<circle cx="528.2" cy="402.5" r="6.4" class="pt pm h"/>
<circle cx="528.2" cy="402.5" r="6.4" class="pt pm"/>
<circle cx="531.0" cy="398.7" r="6.4" class="pt pm h"/>
<circle cx="531.0" cy="398.7" r="6.4" class="pt pm"/>
<circle cx="531.9" cy="397.2" r="6.4" class="pt pm h"/>
<circle cx="531.9" cy="397.2" r="6.4" class="pt pm"/>
<circle cx="532.9" cy="395.5" r="6.4" class="pt pm h"/>
<circle cx="532.9" cy="395.5" r="6.4" class="pt pm"/>
<circle cx="533.8" cy="393.9" r="6.4" class="pt pm h"/>
<circle cx="533.8" cy="393.9" r="6.4" class="pt pm"/>
<circle cx="534.7" cy="392.6" r="6.4" class="pt pm h"/>
<circle cx="534.7" cy="392.6" r="6.4" class="pt pm"/>
<circle cx="537.1" cy="390.5" r="6.4" class="pt pm h"/>
<circle cx="537.1" cy="390.5" r="6.4" class="pt pm"/>
<circle cx="538.1" cy="390.0" r="6.4" class="pt pm h"/>
<circle cx="538.1" cy="390.0" r="6.4" class="pt pm"/>
<circle cx="539.9" cy="389.1" r="6.4" class="pt pm h"/>
<circle cx="539.9" cy="389.1" r="6.4" class="pt pm"/>
<circle cx="540.9" cy="388.6" r="6.4" class="pt pm h"/>
<circle cx="540.9" cy="388.6" r="6.4" class="pt pm"/>
<circle cx="543.3" cy="387.4" r="6.4" class="pt pm h"/>
<circle cx="543.3" cy="387.4" r="6.4" class="pt pm"/>
<circle cx="544.3" cy="386.9" r="6.4" class="pt pm h"/>
<circle cx="544.3" cy="386.9" r="6.4" class="pt pm"/>
<circle cx="545.4" cy="386.4" r="6.4" class="pt pm h"/>
<circle cx="545.4" cy="386.4" r="6.4" class="pt pm"/>
<circle cx="546.4" cy="385.9" r="6.4" class="pt pm h"/>
<circle cx="546.4" cy="385.9" r="6.4" class="pt pm"/>
<circle cx="549.6" cy="384.3" r="6.4" class="pt pm h"/>
<circle cx="549.6" cy="384.3" r="6.4" class="pt pm"/>
<circle cx="550.7" cy="383.7" r="6.4" class="pt pm h"/>
<circle cx="550.7" cy="383.7" r="6.4" class="pt pm"/>
<circle cx="551.9" cy="383.2" r="6.4" class="pt pm h"/>
<circle cx="551.9" cy="383.2" r="6.4" class="pt pm"/>
<circle cx="553.0" cy="382.6" r="6.4" class="pt pm h"/>
<circle cx="553.0" cy="382.6" r="6.4" class="pt pm"/>
<circle cx="554.2" cy="382.0" r="6.4" class="pt pm h"/>
<circle cx="554.2" cy="382.0" r="6.4" class="pt pm"/>
<circle cx="557.0" cy="380.6" r="6.4" class="pt pm h"/>
<circle cx="557.0" cy="380.6" r="6.4" class="pt pm"/>
<circle cx="557.8" cy="380.2" r="6.4" class="pt pm h"/>
<circle cx="557.8" cy="380.2" r="6.4" class="pt pm"/>
<circle cx="558.8" cy="379.7" r="6.4" class="pt pm h"/>
<circle cx="558.8" cy="379.7" r="6.4" class="pt pm"/>
<circle cx="560.1" cy="379.0" r="6.4" class="pt pm h"/>
<circle cx="560.1" cy="379.0" r="6.4" class="pt pm"/>
<circle cx="561.2" cy="378.5" r="6.4" class="pt pm h"/>
<circle cx="561.2" cy="378.5" r="6.4" class="pt pm"/>
<circle cx="562.2" cy="377.9" r="6.4" class="pt pm h"/>
<circle cx="562.2" cy="377.9" r="6.4" class="pt pm"/>
<circle cx="563.0" cy="377.6" r="6.4" class="pt pm h"/>
<circle cx="563.0" cy="377.6" r="6.4" class="pt pm"/>
<circle cx="563.5" cy="377.3" r="6.4" class="pt pm h"/>
<circle cx="563.5" cy="377.3" r="6.4" class="pt pm"/>
<circle cx="566.3" cy="375.6" r="6.4" class="pt pm h"/>
<circle cx="566.3" cy="375.6" r="6.4" class="pt pm"/>
<circle cx="566.4" cy="375.6" r="6.4" class="pt pm h"/>
<circle cx="566.4" cy="375.6" r="6.4" class="pt pm"/>
<circle cx="567.7" cy="374.7" r="6.4" class="pt pm h"/>
<circle cx="567.7" cy="374.7" r="6.4" class="pt pm"/>
<circle cx="568.1" cy="374.5" r="6.4" class="pt pm h"/>
<circle cx="568.1" cy="374.5" r="6.4" class="pt pm"/>
<circle cx="569.1" cy="373.9" r="6.4" class="pt pm h"/>
<circle cx="569.1" cy="373.9" r="6.4" class="pt pm"/>
<circle cx="571.5" cy="372.4" r="6.4" class="pt pm h"/>
<circle cx="571.5" cy="372.4" r="6.4" class="pt pm"/>
<circle cx="572.0" cy="372.0" r="6.4" class="pt pm h"/>
<circle cx="572.0" cy="372.0" r="6.4" class="pt pm"/>
<circle cx="573.3" cy="371.2" r="6.4" class="pt pm h"/>
<circle cx="573.3" cy="371.2" r="6.4" class="pt pm"/>
<circle cx="573.5" cy="370.9" r="6.4" class="pt pm h"/>
<circle cx="573.5" cy="370.9" r="6.4" class="pt pm"/>
<circle cx="576.6" cy="365.0" r="6.4" class="pt pm h"/>
<circle cx="576.6" cy="365.0" r="6.4" class="pt pm"/>
<circle cx="576.7" cy="364.8" r="6.4" class="pt pm h"/>
<circle cx="576.7" cy="364.8" r="6.4" class="pt pm"/>
<circle cx="578.2" cy="361.7" r="6.4" class="pt pm h"/>
<circle cx="578.2" cy="361.7" r="6.4" class="pt pm"/>
<circle cx="578.5" cy="361.3" r="6.4" class="pt pm h"/>
<circle cx="578.5" cy="361.3" r="6.4" class="pt pm"/>
<circle cx="579.8" cy="360.5" r="6.4" class="pt pm h"/>
<circle cx="579.8" cy="360.5" r="6.4" class="pt pm"/>
<circle cx="583.5" cy="357.6" r="6.4" class="pt pm h"/>
<circle cx="583.5" cy="357.6" r="6.4" class="pt pm"/>
<circle cx="584.3" cy="357.1" r="6.4" class="pt pm h"/>
<circle cx="584.3" cy="357.1" r="6.4" class="pt pm"/>
<circle cx="585.2" cy="356.5" r="6.4" class="pt pm h"/>
<circle cx="585.2" cy="356.5" r="6.4" class="pt pm"/>
<circle cx="587.0" cy="355.5" r="6.4" class="pt pm h"/>
<circle cx="587.0" cy="355.5" r="6.4" class="pt pm"/>
<circle cx="589.4" cy="354.4" r="6.4" class="pt pm h"/>
<circle cx="589.4" cy="354.4" r="6.4" class="pt pm"/>
<circle cx="590.3" cy="354.0" r="6.4" class="pt pm h"/>
<circle cx="590.3" cy="354.0" r="6.4" class="pt pm"/>
<circle cx="593.9" cy="351.1" r="6.4" class="pt pm h"/>
<circle cx="593.9" cy="351.1" r="6.4" class="pt pm"/>
<circle cx="594.8" cy="350.4" r="6.4" class="pt pm h"/>
<circle cx="594.8" cy="350.4" r="6.4" class="pt pm"/>
<circle cx="595.9" cy="349.5" r="6.4" class="pt pm h"/>
<circle cx="595.9" cy="349.5" r="6.4" class="pt pm"/>
<circle cx="598.0" cy="347.8" r="6.4" class="pt pm h"/>
<circle cx="598.0" cy="347.8" r="6.4" class="pt pm"/>
<circle cx="277.7" cy="660.1" r="6.4" class="pt pm h"/>
<circle cx="277.7" cy="660.1" r="6.4" class="pt pm"/>
<circle cx="599" cy="347" r="6.4" class="pt pm h"/>
<circle cx="599" cy="347" r="6.4" class="pt pm"/>
<circle cx="298.1" cy="642.5" r="6.4" class="pt pm h"/>
<circle cx="298.1" cy="642.5" r="6.4" class="pt pm"/>
<circle cx="300.3" cy="626.6" r="6.4" class="pt pm h"/>
<circle cx="300.3" cy="626.6" r="6.4" class="pt pm"/>
<circle cx="736" cy="40.8" r="6.4" class="gp h"/>
<circle cx="736" cy="40.8" r="6.4" class="gp"/>
<circle cx="705.4" cy="90.7" r="6.4" class="gp h"/>
<circle cx="705.4" cy="90.7" r="6.4" class="gp"/>
<circle cx="690.6" cy="172.2" r="6.4" class="gp h"/>
<circle cx="690.6" cy="172.2" r="6.4" class="gp"/>
<circle cx="668.2" cy="199" r="6.4" class="gp h"/>
<circle cx="668.2" cy="199" r="6.4" class="gp"/>
<g clip-path="url(#cp)">
<line x1="108.4" y1="886.1" x2="986.3" y2="8.2" class="ln h"/>
<line x1="108.4" y1="886.1" x2="986.3" y2="8.2" class="ln"/>
<line x1="108.4" y1="765.8" x2="986.3" y2="-112.1" class="dash h"/>
<line x1="108.4" y1="765.8" x2="986.3" y2="-112.1" class="dash"/>
<line x1="109.8" y1="1004.4" x2="986.3" y2="127.9" class="dash h"/>
<line x1="109.8" y1="1004.4" x2="986.3" y2="127.9" class="dash"/>
<line x1="109.60000000000001" y1="199.1" x2="986.3" y2="199.1" class="hdash h"/>
<line x1="109.60000000000001" y1="199.1" x2="986.3" y2="199.1" class="hdash"/>
</g>
<rect x="108.4" y="8.5" width="877.9" height="877.9" class="box h"/>
<rect x="108.4" y="8.5" width="877.9" height="877.9" class="box"/>
<text x="625.4" y="47.1" font-size="22.5" fill="#2a2a2a" stroke="#2a2a2a" textLength="96.6" lengthAdjust="spacingAndGlyphs">Serotonin</text>
<text x="141.9" y="251.4" font-size="19" fill="#4a4a4a" stroke="#4a4a4a" xml:space="preserve" style="white-space:pre" textLength="104.4" lengthAdjust="spacingAndGlyphs">FDR:  0.036</text>
</svg></body></html>
